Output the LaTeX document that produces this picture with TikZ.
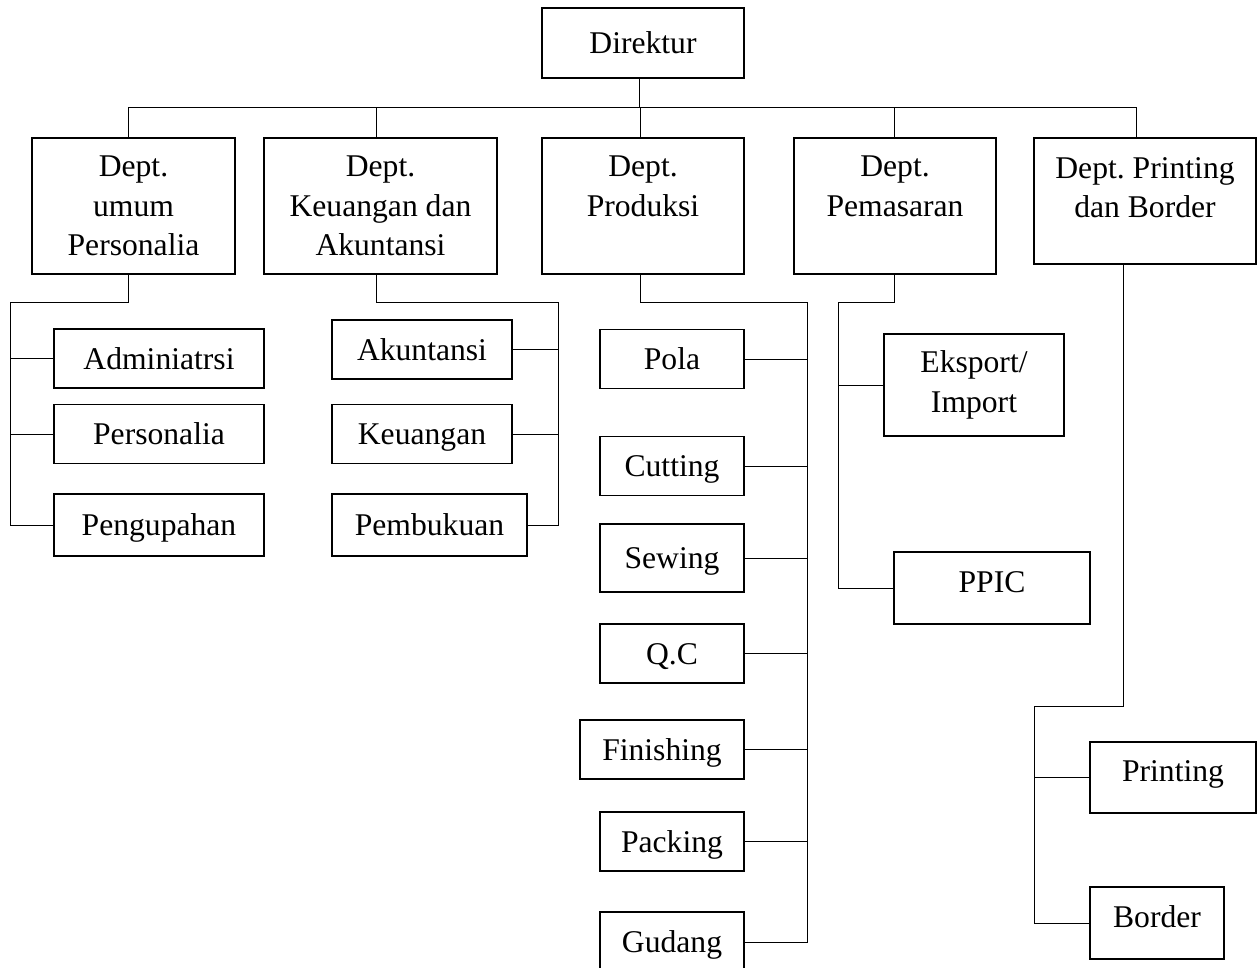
\documentclass[tikz,border=0pt]{standalone}
\usepackage{fontspec}
\setmainfont{Liberation Serif}
\usetikzlibrary{positioning}

\tikzset{
	box/.style={draw, line width=0.8pt, align=center, inner sep=0pt, font=\fontsize{18}{22.5}\selectfont},
	deptbox/.style={box, minimum height=27.2mm},
	subbox/.style={box, minimum height=11.8mm, text height=13pt, text depth=1pt},
	unitbox/.style={box, minimum height=14.4mm, text height=13pt, text depth=8pt},
	link/.style={line width=0.55pt},
}

\begin{document}
\begin{tikzpicture}[x=0.02cm, y=-0.02cm]
		\useasboundingbox (0,0) rectangle (1260,967);
		\clip (0,0) rectangle (1260,967);
		
		% direktur and departments
		\node[box, minimum width=40.4mm, minimum height=14mm] (dir) at (643,43) {Direktur};
		\node[deptbox, minimum width=40.6mm, line width=1.4pt] (umum) at (133.5,206) {Dept.\\umum\\Personalia};
		\node[deptbox, minimum width=46.6mm] (keu) at (380.5,206) {Dept.\\Keuangan dan\\Akuntansi};
		\node[deptbox, minimum width=40.4mm] (prod) at (643,206) {Dept.\\Produksi\\\mbox{}};
		\node[deptbox, minimum width=40.4mm] (pem) at (895,206) {Dept.\\Pemasaran\\\mbox{}};
		\node[box, minimum width=44.4mm, minimum height=25.2mm, text depth=15.5pt] (prt) at (1145,201) {Dept.\ Printing\\dan Border};
		
		% sub units
		\node[subbox, minimum width=42mm] (adm) at (159,358.5) {Adminiatrsi};
		\node[subbox, minimum width=42mm] (pers) at (159,434) {Personalia};
		\node[subbox, minimum width=42mm, minimum height=12.4mm] (peng) at (159,525) {Pengupahan};
		\node[subbox, minimum width=36mm] (akun) at (422,349.5) {Akuntansi};
		\node[subbox, minimum width=36mm] (uang) at (422,434) {Keuangan};
		\node[subbox, minimum width=39mm, minimum height=12.4mm] (buku) at (429.5,525) {Pembukuan};
		
		\node[subbox, minimum width=28.8mm] (pola) at (672,359) {Pola};
		\node[subbox, minimum width=28.8mm] (cut) at (672,466) {Cutting};
		\node[subbox, minimum width=28.8mm, minimum height=13.6mm] (sew) at (672,558) {Sewing};
		\node[subbox, minimum width=28.8mm] (qc) at (672,653.5) {Q.C};
		\node[subbox, minimum width=32.8mm] (fin) at (662,749.5) {Finishing};
		\node[subbox, minimum width=28.8mm] (pack) at (672,841.5) {Packing};
		\node[subbox, minimum width=28.8mm, minimum height=12mm] (gud) at (672,942) {Gudang};
		
		\node[box, minimum width=36mm, minimum height=20.4mm] (eks) at (974,385) {Eksport/\\Import};
		\node[unitbox, minimum width=39.2mm] (ppic) at (992,588) {PPIC};
		\node[unitbox, minimum width=33.2mm, minimum height=14.2mm] (prn) at (1173,777.5) {Printing};
		\node[unitbox, minimum width=26.8mm] (brd) at (1157,923) {Border};
		
		% bus from direktur
		\coordinate (j0) at (639.6,107);
		\coordinate (j1) at (128.6,107);
		\coordinate (j2) at (376,107);
		\coordinate (j3) at (640,107);
		\coordinate (j4) at (894,107);
		\coordinate (j5) at (1136,107);
		\draw[link] (j1) -- (j5);
		\draw[link] (j0) -- (j0 |- dir.south);
		\foreach \j/\d in {j1/umum, j2/keu, j3/prod, j4/pem, j5/prt}
			\draw[link] (\j) -- (\j |- \d.north);
		
		% umum personalia
		\coordinate (s1) at (10.3,302);
		\draw[link] (j1 |- umum.south) |- (s1) -- (s1 |- peng.west) -- (peng.west);
		\foreach \b in {adm, pers}
			\draw[link] (\b.west) -- (\b.west -| s1);
		
		% keuangan
		\coordinate (s2) at (558,302);
		\draw[link] (j2 |- keu.south) |- (s2) -- (s2 |- buku.east) -- (buku.east);
		\foreach \b in {akun, uang}
			\draw[link] (\b.east) -- (\b.east -| s2);
		
		% produksi
		\coordinate (s3) at (807.8,302);
		\draw[link] (j3 |- prod.south) |- (s3) -- (s3 |- gud.east) -- (gud.east);
		\foreach \b in {pola, cut, sew, qc, fin, pack}
			\draw[link] (\b.east) -- (\b.east -| s3);
		
		% pemasaran
		\coordinate (s4) at (838,302);
		\draw[link] (j4 |- pem.south) |- (s4) -- (s4 |- ppic.west) -- (ppic.west);
		\draw[link] (eks.west) -- (eks.west -| s4);
		
		% printing dan border
		\coordinate (p5) at (1123.4,706);
		\coordinate (s5) at (1034,706);
		\draw[link] (p5 |- prt.south) -- (p5) -- (s5) -- (s5 |- brd.west) -- (brd.west);
		\draw[link] (prn.west) -- (prn.west -| s5);
\end{tikzpicture}
\end{document}
